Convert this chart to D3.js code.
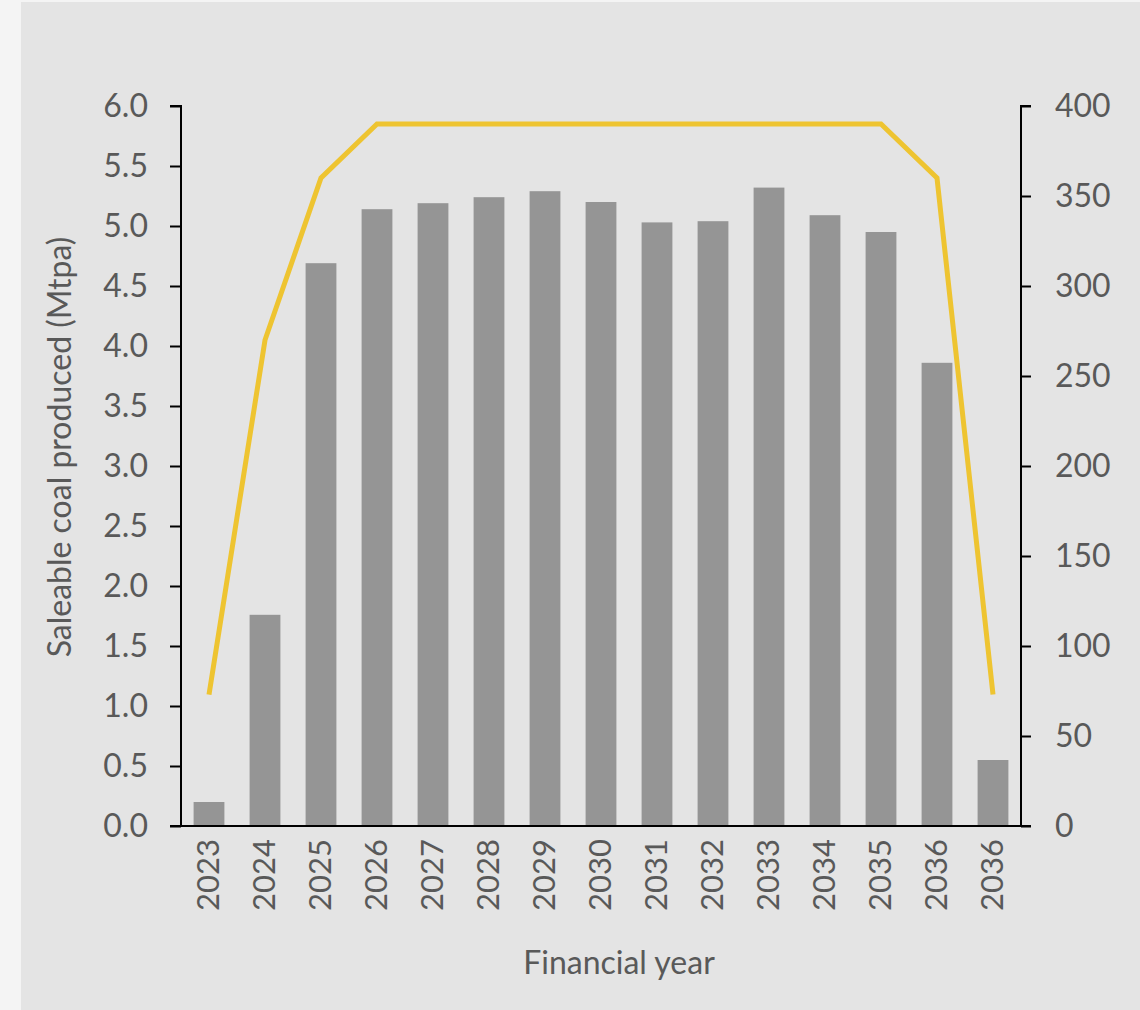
<!DOCTYPE html>
<html>
<head>
<meta charset="utf-8">
<script src="https://cdn.jsdelivr.net/npm/d3@7/dist/d3.min.js"></script>
<style>
  html, body { margin: 0; padding: 0; background: #f4f4f4; }
  svg { display: block; }
  text { font-family: Lato, "Open Sans", sans-serif; fill: #595959; }
</style>
</head>
<body>
<script>
// Financial years (the final year appears twice in the schedule)
const years = ["2023","2024","2025","2026","2027","2028","2029","2030","2031","2032","2033","2034","2035","2036","2036"];
// Saleable coal produced, Mtpa (bars, left axis)
const coalMtpa = [0.20, 1.76, 4.69, 5.14, 5.19, 5.24, 5.29, 5.20, 5.03, 5.04, 5.32, 5.09, 4.95, 3.86, 0.55];
// Secondary series on the right axis (line)
const lineValues = [73, 270, 360, 390, 390, 390, 390, 390, 390, 390, 390, 390, 390, 360, 73];
const leftTicks = [0, 0.5, 1, 1.5, 2, 2.5, 3, 3.5, 4, 4.5, 5, 5.5, 6];
const rightTicks = [0, 50, 100, 150, 200, 250, 300, 350, 400];

const W = 1140, H = 1010;
const svg = d3.select("body").append("svg").attr("width", W).attr("height", H);

// chart panel
svg.append("rect").attr("x", 21).attr("y", 2).attr("width", W - 21).attr("height", H - 2).attr("fill", "#e4e4e4");

const plotL = 181, plotR = 1021, plotT = 106, plotB = 826;

const x = d3.scaleBand().domain(d3.range(years.length)).range([plotL, plotR]).paddingInner(0.45).paddingOuter(0.225);
const yL = d3.scaleLinear().domain([0, 6]).range([plotB, plotT]);
const yR = d3.scaleLinear().domain([0, 400]).range([plotB, plotT]);

// bars
svg.append("g").selectAll("rect").data(coalMtpa).join("rect")
  .attr("x", (d, i) => x(i))
  .attr("y", d => yL(d))
  .attr("width", x.bandwidth())
  .attr("height", d => plotB - yL(d))
  .attr("fill", "#959595");

// line
const line = d3.line().x((d, i) => x(i) + x.bandwidth() / 2).y(d => yR(d));
svg.append("path").datum(lineValues).attr("d", line)
  .attr("fill", "none").attr("stroke", "#eec431").attr("stroke-width", 5).attr("stroke-linejoin", "miter");

// left axis
const gL = svg.append("g").attr("transform", `translate(${plotL},0)`)
  .call(d3.axisLeft(yL).tickValues(leftTicks).tickFormat(d3.format(".1f")).tickSize(11).tickPadding(22));
// right axis
const gR = svg.append("g").attr("transform", `translate(${plotR},0)`)
  .call(d3.axisRight(yR).tickValues(rightTicks).tickSize(10).tickPadding(24));
[gL, gR].forEach(g => {
  g.select(".domain").attr("stroke", "#000").attr("stroke-width", 2);
  g.selectAll(".tick line").attr("stroke", "#000").attr("stroke-width", 2);
  g.selectAll(".tick text").style("font-size", "32px").attr("fill", "#595959").style("font-family", "Lato, sans-serif");
});
gL.select(".domain").attr("d", `M-11,${plotT}H0V${plotB}`);
gR.select(".domain").attr("d", `M10,${plotT}H0V${plotB}`);

// bottom axis line
svg.append("line").attr("x1", 170).attr("x2", 1031).attr("y1", plotB).attr("y2", plotB)
  .attr("stroke", "#000").attr("stroke-width", 2);

// year labels, rotated
svg.append("g").selectAll("text").data(years).join("text")
  .attr("transform", (d, i) => `translate(${x(i) + x.bandwidth() / 2 + 10},${plotB + 13}) rotate(-90)`)
  .attr("text-anchor", "end")
  .style("font-size", "31px")
  .text(d => d);

// axis titles
svg.append("text").attr("x", (plotL + plotR) / 2 + 18).attr("y", 974).attr("text-anchor", "middle")
  .style("font-size", "32px").text("Financial year");
svg.append("text").attr("transform", `translate(71,${(plotT + plotB) / 2 - 19}) rotate(-90)`)
  .attr("text-anchor", "middle").style("font-size", "32px").text("Saleable coal produced (Mtpa)");
</script>
</body>
</html>
